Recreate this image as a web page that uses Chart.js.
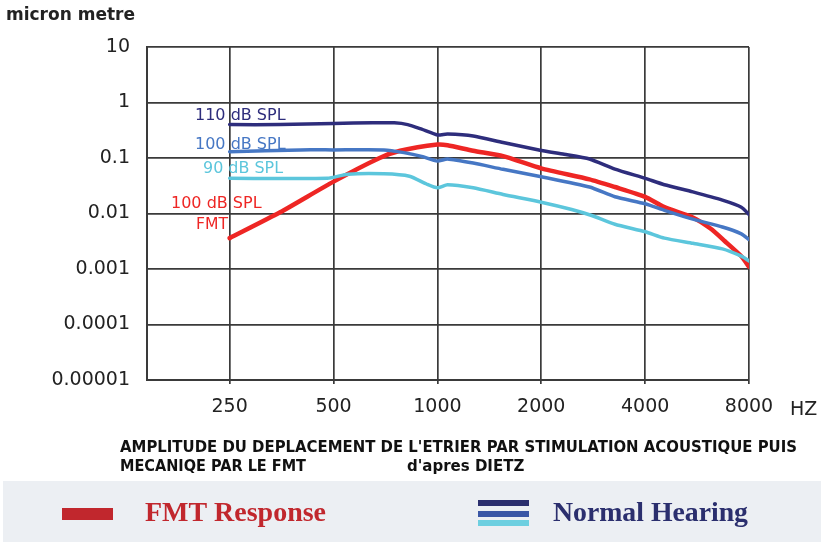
<!DOCTYPE html>
<html>
<head>
<meta charset="utf-8">
<script src="https://cdn.jsdelivr.net/npm/chart.js@4"></script>
<style>
  html, body { margin: 0; padding: 0; background: #fff; }
  #wrap { width: 821px; height: 542px; position: relative; }
</style>
</head>
<body>
<div id="wrap"><canvas id="stapes_chart" width="821" height="542"></canvas></div>
<script>
// frequency axis (Hz) and amplitude axis (micron metre)
const xTicks = [250, 500, 1000, 2000, 4000, 8000];
const yTicks = [10, 1, 0.1, 0.01, 0.001, 0.0001, 0.00001];
const yTickLabels = ["10", "1", "0.1", "0.01", "0.001", "0.0001", "0.00001"];

// 110 dB SPL
const freq110 = [250, 350, 500, 650, 750, 820, 900, 1000, 1070, 1270, 1550, 2000, 2330, 2760, 3270, 4000, 4550, 5500, 6700, 7600, 8000];
const amp110 = [0.40, 0.40, 0.42, 0.43, 0.43, 0.40, 0.33, 0.26, 0.27, 0.25, 0.19, 0.137, 0.117, 0.096, 0.063, 0.043, 0.033, 0.0245, 0.0174, 0.013, 0.0096];

// 100 dB SPL
const freq100 = [250, 400, 500, 700, 800, 900, 1000, 1070, 1270, 1550, 2000, 2760, 3270, 4000, 4550, 5500, 6700, 7600, 8000];
const amp100 = [0.13, 0.14, 0.14, 0.14, 0.125, 0.107, 0.088, 0.096, 0.081, 0.0625, 0.046, 0.030, 0.020, 0.015, 0.0114, 0.0079, 0.0057, 0.0043, 0.0034];

// 90 dB SPL
const freq90 = [250, 480, 550, 700, 830, 930, 1000, 1070, 1270, 1550, 2000, 2450, 2800, 3270, 4000, 4550, 5500, 6700, 7600, 8000];
const amp90 = [0.043, 0.043, 0.051, 0.052, 0.047, 0.034, 0.029, 0.033, 0.029, 0.022, 0.016, 0.0118, 0.0092, 0.0064, 0.0047, 0.0036, 0.0029, 0.0023, 0.0017, 0.0014];

// 100 dB SPL FMT
const freqFmt = [250, 350, 500, 680, 780, 1000, 1070, 1270, 1550, 2000, 2760, 3270, 4000, 4550, 5500, 6200, 6800, 7600, 8000];
const ampFmt = [0.0036, 0.0105, 0.0375, 0.10, 0.135, 0.175, 0.17, 0.135, 0.108, 0.065, 0.0413, 0.030, 0.020, 0.013, 0.0085, 0.0053, 0.0032, 0.0017, 0.0011];

function pairs(xs, ys) {
  return xs.map((x, i) => ({ x: x, y: ys[i] }));
}

const gridColor = "#3a3a3a";

const textPlugin = {
  id: "texts",
  beforeDatasetsDraw(chart) {
    const ctx = chart.ctx;
    ctx.save();
    ctx.textBaseline = "alphabetic";
    ctx.textAlign = "left";
    ctx.font = '16px "DejaVu Sans"';
    ctx.fillStyle = "#2e2d7c";
    ctx.fillText("110 dB SPL", 195, 120, 92);
    ctx.fillStyle = "#4677c4";
    ctx.fillText("100 dB SPL", 195, 149, 92);
    ctx.fillStyle = "#5cc6dc";
    ctx.fillText("90 dB SPL", 203, 173, 80);
    ctx.fillStyle = "#ee2624";
    ctx.fillText("100 dB SPL", 171, 208, 92);
    ctx.fillText("FMT", 196, 229, 32);
    ctx.restore();
  },
  afterDraw(chart) {
    const ctx = chart.ctx;
    ctx.save();
    ctx.textBaseline = "alphabetic";
    ctx.textAlign = "left";
    // y axis title
    ctx.fillStyle = "#222";
    ctx.font = 'bold 17px "DejaVu Sans"';
    ctx.fillText("micron metre", 6, 20, 132);
    // x unit
    ctx.font = '19px "DejaVu Sans"';
    ctx.fillText("HZ", 790, 415);
    // caption
    ctx.font = 'bold 15px "DejaVu Sans"';
    ctx.fillStyle = "#111";
    ctx.fillText("AMPLITUDE DU DEPLACEMENT DE L'ETRIER PAR STIMULATION ACOUSTIQUE PUIS", 120, 452, 677);
    ctx.fillText("MECANIQE PAR LE FMT", 120, 471, 186);
    ctx.fillText("d'apres DIETZ", 407, 471, 120);
    // legend band
    ctx.fillStyle = "#eceff3";
    ctx.fillRect(3, 481, 818, 61);
    ctx.fillStyle = "#c1272d";
    ctx.fillRect(62, 508, 51, 12);
    ctx.font = 'bold 28px "Liberation Serif"';
    ctx.fillText("FMT Response", 145, 521, 181);
    ctx.fillStyle = "#2b2f6e";
    ctx.fillRect(478, 500, 51, 6);
    ctx.fillStyle = "#3a56a6";
    ctx.fillRect(478, 511, 51, 6);
    ctx.fillStyle = "#6dcfe0";
    ctx.fillRect(478, 520, 51, 6);
    ctx.fillStyle = "#2b2f6e";
    ctx.fillText("Normal Hearing", 553, 521, 195);
    ctx.restore();
  }
};

const ctx = document.getElementById("stapes_chart").getContext("2d");
const chart = new Chart(ctx, {
  type: "line",
  data: {
    datasets: [
      { label: "110 dB SPL", data: pairs(freq110, amp110), borderColor: "#2e2d7c", borderWidth: 3.5 },
      { label: "100 dB SPL", data: pairs(freq100, amp100), borderColor: "#4677c4", borderWidth: 3.5 },
      { label: "90 dB SPL", data: pairs(freq90, amp90), borderColor: "#5cc6dc", borderWidth: 3.5 },
      { label: "100 dB SPL FMT", data: pairs(freqFmt, ampFmt), borderColor: "#ee2624", borderWidth: 4.5 }
    ]
  },
  options: {
    responsive: false,
    animation: false,
    devicePixelRatio: 1,
    layout: { padding: { left: 0, right: 72, top: 47, bottom: 122 } },
    elements: {
      point: { radius: 0 },
      line: { tension: 0.2, borderCapStyle: "round", borderJoinStyle: "round", fill: false }
    },
    plugins: {
      legend: { display: false },
      tooltip: { enabled: false }
    },
    scales: {
      x: {
        type: "logarithmic",
        min: 144,
        max: 8000,
        afterBuildTicks: (scale) => { scale.ticks = xTicks.map(v => ({ value: v })); },
        afterFit: (scale) => { scale.height = 40; },
        grid: { color: gridColor, lineWidth: 1.7, drawTicks: true, tickLength: 4, tickColor: gridColor },
        border: { display: true, color: gridColor, width: 2 },
        ticks: {
          autoSkip: false,
          maxRotation: 0,
          padding: 12,
          color: "#222",
          font: { family: "DejaVu Sans", size: 19 },
          callback: (value) => String(value)
        }
      },
      y: {
        type: "logarithmic",
        min: 0.00001,
        max: 10,
        afterBuildTicks: (scale) => { scale.ticks = yTicks.map(v => ({ value: v })); },
        afterFit: (scale) => { scale.width = 147; },
        grid: { color: gridColor, lineWidth: 1.7, drawTicks: false },
        border: { display: true, color: gridColor, width: 2 },
        ticks: {
          padding: 17,
          color: "#222",
          font: { family: "DejaVu Sans", size: 19 },
          callback: (value, index) => yTickLabels[index]
        }
      }
    }
  },
  plugins: [textPlugin]
});
</script>
</body>
</html>
